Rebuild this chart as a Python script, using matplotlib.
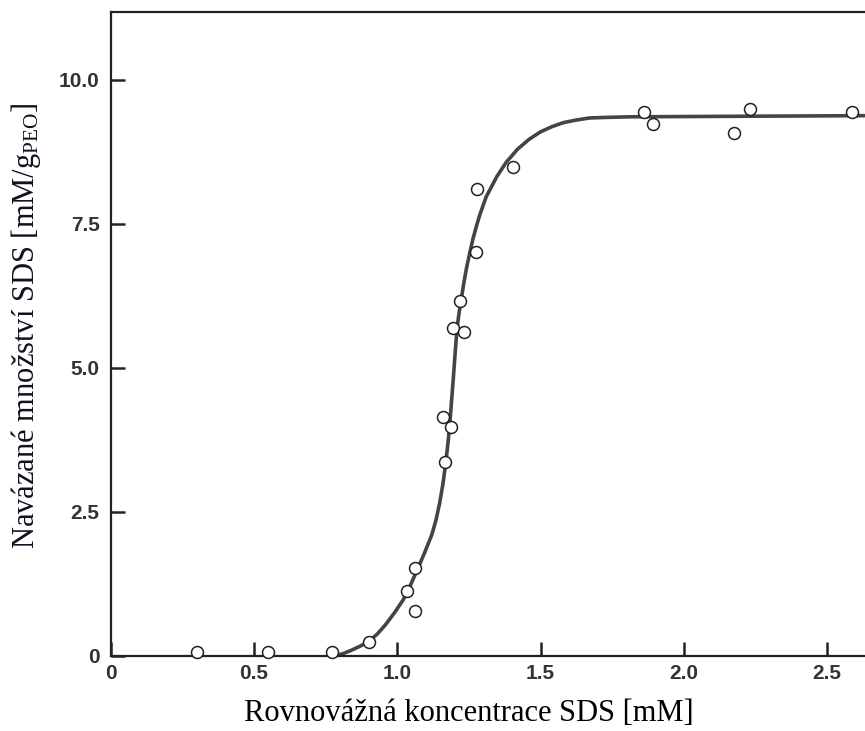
import matplotlib
matplotlib.use("Agg")
import matplotlib.pyplot as plt

plt.rcParams["mathtext.fontset"] = "custom"
plt.rcParams["mathtext.rm"] = "Liberation Serif"
plt.rcParams["mathtext.it"] = "Liberation Serif:italic"

# measured points (x: equilibrium SDS conc. [mM], y: bound SDS [mM/g PEO])
x_pts = [0.300, 0.548, 0.771, 0.900, 1.033, 1.061, 1.061, 1.160, 1.166, 1.186,
         1.195, 1.220, 1.233, 1.274, 1.277, 1.403, 1.860, 1.892, 2.175, 2.230, 2.586]
y_pts = [0.07, 0.07, 0.07, 0.24, 1.13, 1.53, 0.78, 4.15, 3.36, 3.98,
         5.70, 6.16, 5.62, 7.01, 8.11, 8.49, 9.44, 9.24, 9.08, 9.50, 9.44]

# fitted curve
x_fit = [0.78, 0.81, 0.84, 0.87, 0.90, 0.93, 0.96, 0.99, 1.02, 1.045, 1.07,
         1.095, 1.12, 1.135, 1.148, 1.159, 1.169, 1.178, 1.185, 1.190, 1.195,
         1.202, 1.209, 1.216, 1.224, 1.232, 1.241, 1.252, 1.264, 1.276, 1.288,
         1.31, 1.347, 1.38, 1.42, 1.46, 1.50, 1.54, 1.58, 1.62, 1.67, 1.73,
         1.81, 2.2, 2.63]
y_fit = [0.0, 0.04, 0.10, 0.17, 0.25, 0.38, 0.55, 0.75, 0.97, 1.22, 1.50,
         1.79, 2.10, 2.36, 2.66, 2.98, 3.35, 3.75, 4.15, 4.47, 4.79,
         5.27, 5.72, 5.97, 6.22, 6.47, 6.72, 6.98, 7.24, 7.46, 7.66,
         7.97, 8.32, 8.57, 8.80, 8.97, 9.10, 9.19, 9.26, 9.30, 9.34, 9.35,
         9.36, 9.37, 9.38]

xticks = [0, 0.5, 1.0, 1.5, 2.0, 2.5]
xtick_labels = ["0", "0.5", "1.0", "1.5", "2.0", "2.5"]
yticks = [0, 2.5, 5.0, 7.5, 10.0]
ytick_labels = ["0", "2.5", "5.0", "7.5", "10.0"]

fig = plt.figure(figsize=(8.65, 7.31), dpi=100)
ax = fig.add_axes([0.128, 0.1026, 0.872, 0.881])

ax.plot(x_fit, y_fit, color="#444444", lw=2.6, solid_capstyle="round",
        solid_joinstyle="round", zorder=2)
ax.plot(x_pts, y_pts, "o", ms=8.6, mfc="white", mec="#222222", mew=1.1,
        clip_on=False, zorder=3)

ax.set_xlim(0, 2.632)
ax.set_ylim(0, 11.18)

for s in ["left", "bottom", "top"]:
    ax.spines[s].set_linewidth(1.6)
    ax.spines[s].set_color("#222222")
ax.spines["right"].set_visible(False)

ax.set_xticks(xticks)
ax.set_xticklabels(xtick_labels)
ax.set_yticks(yticks)
ax.set_yticklabels(ytick_labels)
ax.tick_params(direction="in", length=10, width=1.8, color="#222222",
               labelsize=15, labelcolor="#333333", pad=6)
ax.tick_params(axis="y", pad=8)
for lab in ax.get_xticklabels() + ax.get_yticklabels():
    lab.set_fontfamily("Liberation Sans")
    lab.set_fontweight("bold")

fig.text(0.542, 0.024, "Rovnovážná koncentrace SDS [mM]", ha="center",
         va="center", fontsize=22, family="Liberation Serif", color="black")
fig.text(0.030, 0.555, "Navázané množství SDS [mM/g$_{\\mathrm{PEO}}$]",
         ha="center", va="center", rotation=90, fontsize=22,
         family="Liberation Serif", color="#111122")

fig.savefig("out.png", dpi=100)
